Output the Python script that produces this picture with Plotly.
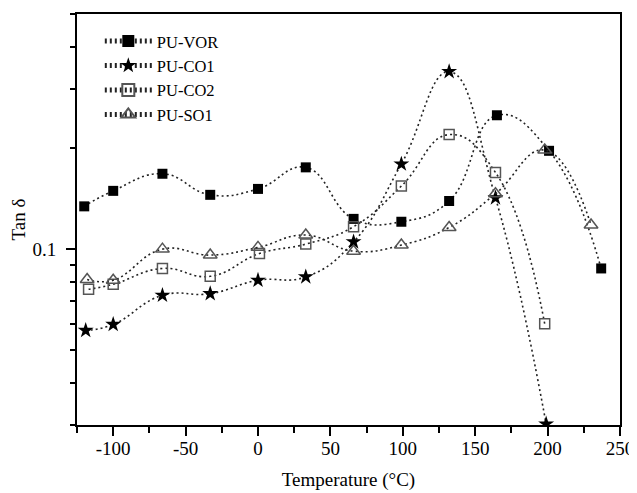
import plotly.graph_objects as go

# Temperature (°C) and tan delta values
vor_t = [-120, -100, -66, -33, 0, 33, 66, 99, 132, 165, 201, 237]
vor_v = [0.134, 0.149, 0.1675, 0.145, 0.151, 0.175, 0.123, 0.1206, 0.139, 0.25, 0.196, 0.0876]

co1_t = [-119, -100, -66, -33, 0, 33, 66, 99, 132, 164, 199]
co1_v = [0.0573, 0.0597, 0.0729, 0.0737, 0.0808, 0.0827, 0.1051, 0.179, 0.337, 0.142, 0.0302]

co2_t = [-117, -100, -66, -33, 1, 33, 66, 99, 132, 164, 198]
co2_v = [0.0760, 0.0786, 0.0876, 0.083, 0.097, 0.1035, 0.1166, 0.154, 0.219, 0.169, 0.06]

so1_t = [-118, -100, -66, -33, 0, 33, 66, 99, 132, 164, 198, 230]
so1_v = [0.0812, 0.0808, 0.100, 0.096, 0.1012, 0.1101, 0.0986, 0.1028, 0.116, 0.146, 0.197, 0.118]

names = ["PU-VOR", "PU-CO1", "PU-CO2", "PU-SO1"]

x_ticks = [-100, -50, 0, 50, 100, 150, 200, 250]
x_ticktext = ["-100", "-50", "0", "50", "100", "150", "200", "250"]
y_major = [0.1]
y_ticktext = ["0.1"]
y_minor = [0.03, 0.04, 0.05, 0.06, 0.07, 0.08, 0.09, 0.2, 0.3, 0.4, 0.5]

FONT = "Liberation Serif"

series = [
    (vor_t, vor_v, names[0], dict(symbol="square", size=10, color="black")),
    (co1_t, co1_v, names[1], dict(symbol="star", size=12, color="black")),
    (co2_t, co2_v, names[2], dict(symbol="square-open", size=10, color="#555555",
                                  line=dict(width=1.5, color="#555555"))),
    (so1_t, so1_v, names[3], dict(symbol="triangle-up-open", size=12, color="#555555",
                                  line=dict(width=1.5, color="#555555"))),
]

fig = go.Figure()
for t, v, n, mk in series:
    fig.add_trace(go.Scatter(
        x=t, y=v, name=n, mode="lines+markers",
        line=dict(color="#222222", width=1.6, dash="2px,3px", shape="spline", smoothing=1.3),
        marker=mk,
    ))

# the page body adds an 8px offset, so the figure is sized to fit the window
fig.update_layout(
    width=629, height=485,
    margin=dict(l=69, r=17, t=6, b=68),
    paper_bgcolor="white", plot_bgcolor="white",
    font=dict(family=FONT, size=19, color="black"),
    showlegend=True,
    legend=dict(x=0.042, y=0.976, xanchor="left", yanchor="top",
                bgcolor="rgba(0,0,0,0)", font=dict(family=FONT, size=16.5, color="black"),
                tracegroupgap=0, itemsizing="constant", itemwidth=47),
)

fig.update_xaxes(
    automargin=False,
    range=[-125, 250], tickmode="array", tickvals=x_ticks, ticktext=x_ticktext,
    ticks="outside", ticklen=9, tickwidth=2, tickcolor="black",
    ticklabelstandoff=-4,
    minor=dict(ticks="outside", ticklen=6, tickwidth=2, tickcolor="black",
               tickmode="linear", tick0=-125, dtick=25),
    showline=True, linewidth=2, linecolor="black", mirror=True,
    showgrid=False, zeroline=False,
    title=dict(text="Temperature (°C)", font=dict(family=FONT, size=19, color="black"), standoff=15),
    tickfont=dict(family=FONT, size=19, color="black"),
)

fig.update_yaxes(
    automargin=False,
    type="log", range=[-1.5229, -0.30103],
    tickmode="array", tickvals=y_major, ticktext=y_ticktext,
    ticks="outside", ticklen=9, tickwidth=2, tickcolor="black",
    ticklabelstandoff=6,
    minor=dict(ticks="outside", ticklen=5, tickwidth=2, tickcolor="black",
               tickmode="array", tickvals=y_minor),
    showline=True, linewidth=2, linecolor="black", mirror=True,
    showgrid=False, zeroline=False,
    title=dict(text="Tan δ", font=dict(family=FONT, size=19, color="black"), standoff=14),
    tickfont=dict(family=FONT, size=19, color="black"),
)

fig.write_html("out.html")
